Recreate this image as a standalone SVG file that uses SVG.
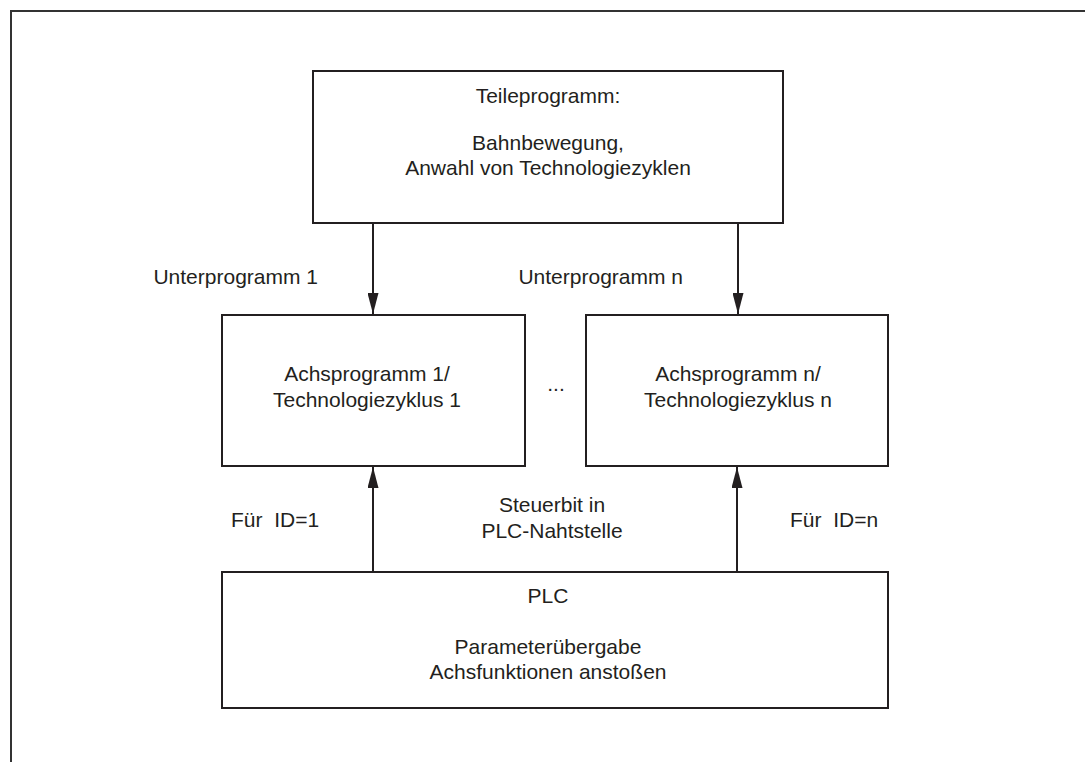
<svg xmlns="http://www.w3.org/2000/svg" width="1085" height="762" viewBox="0 0 1085 762">
<style>
.box{fill:#fff;stroke:#231f20;stroke-width:2}
.frame{fill:none;stroke:#333;stroke-width:2}
.t{font-family:"Liberation Sans",Arial,sans-serif;font-size:21px;fill:#231f20}
.c{text-anchor:middle}
.e{text-anchor:end}
.ln{stroke:#231f20;stroke-width:2;fill:none}
</style>
<defs>
<marker id="ah" markerWidth="21" markerHeight="11" refX="21" refY="5.5" orient="auto" markerUnits="userSpaceOnUse" viewBox="0 0 21 11">
<path d="M0,0 L21,5.5 L0,11 Z" fill="#231f20"/>
</marker>
</defs>
<rect width="1085" height="762" fill="#fff"/>
<path class="frame" d="M11,772 L11,11 L1095,11"/>
<g id="teileprogramm">
<rect class="box" x="313" y="71" width="470" height="152"/>
<text class="t c" x="548" y="103">Teileprogramm:</text>
<text class="t c" x="548" y="150">Bahnbewegung,</text>
<text class="t c" x="548" y="175">Anwahl von Technologiezyklen</text>
</g>
<g id="achsprogramm1">
<rect class="box" x="222" y="315" width="303" height="151"/>
<text class="t c" x="367" y="381">Achsprogramm 1/</text>
<text class="t c" x="367" y="407">Technologiezyklus 1</text>
</g>
<g id="achsprogrammn">
<rect class="box" x="586" y="315" width="302" height="151"/>
<text class="t c" x="738" y="381">Achsprogramm n/</text>
<text class="t c" x="738" y="407">Technologiezyklus n</text>
</g>
<g id="plc">
<rect class="box" x="222" y="572" width="666" height="136"/>
<text class="t c" x="548" y="603">PLC</text>
<text class="t c" x="548" y="654">Parameterübergabe</text>
<text class="t c" x="548" y="679">Achsfunktionen anstoßen</text>
</g>
<g id="connectors">
<line class="ln" x1="373" y1="223" x2="373" y2="314" marker-end="url(#ah)"/>
<line class="ln" x1="738" y1="223" x2="738" y2="314" marker-end="url(#ah)"/>
<line class="ln" x1="373" y1="572" x2="373" y2="467" marker-end="url(#ah)"/>
<line class="ln" x1="737" y1="572" x2="737" y2="467" marker-end="url(#ah)"/>
</g>
<g id="labels">
<text class="t e" x="318" y="284">Unterprogramm 1</text>
<text class="t e" x="683" y="284">Unterprogramm n</text>
<text class="t c" x="556" y="391">...</text>
<text class="t" x="231" y="527" xml:space="preserve">Für  ID=1</text>
<text class="t c" x="552" y="512">Steuerbit in</text>
<text class="t c" x="552" y="538">PLC-Nahtstelle</text>
<text class="t" x="790" y="527" xml:space="preserve">Für  ID=n</text>
</g>
</svg>
